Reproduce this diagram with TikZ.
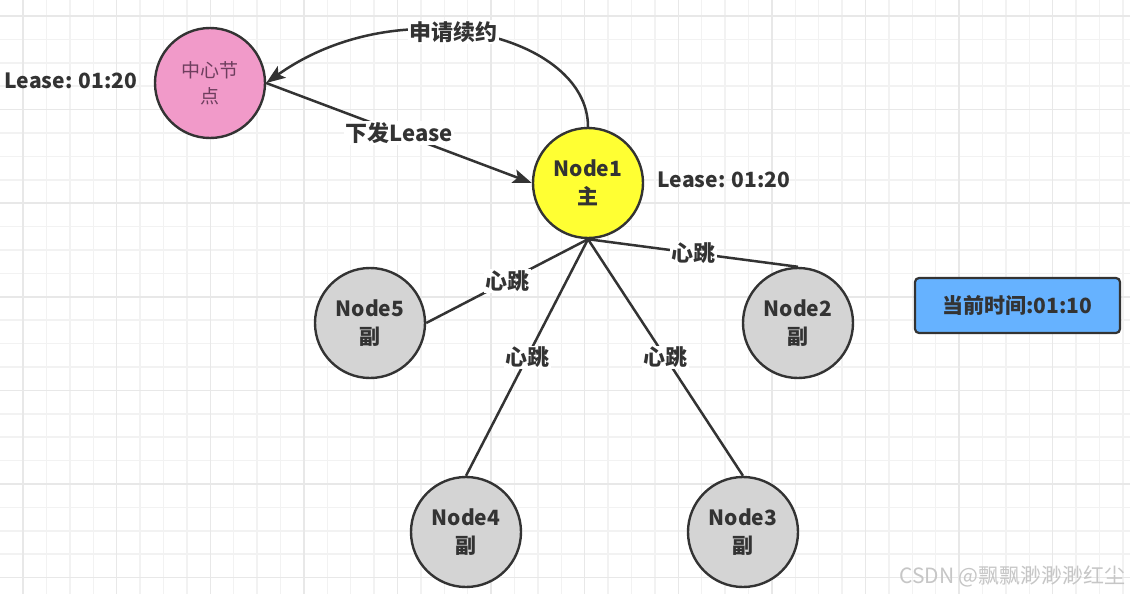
\documentclass[tikz,border=0pt]{standalone}
\usepackage{fontspec}
\setmainfont{Noto Sans CJK SC}
\usetikzlibrary{arrows.meta}
\definecolor{ink}{HTML}{333333}
\definecolor{pinkfill}{HTML}{F19AC9}
\definecolor{yellowfill}{HTML}{FFFF33}
\definecolor{grayfill}{HTML}{D4D4D4}
\definecolor{bluefill}{HTML}{66B2FF}
\definecolor{gridminor}{HTML}{F2F2F2}
\definecolor{gridmajor}{HTML}{E8E8E8}
\definecolor{pinktext}{HTML}{6E3E5E}
\tikzset{
  circnode/.style={circle, draw=ink, line width=2.4pt, minimum size=110pt, inner sep=0pt, align=center, text=ink, font=\fontsize{21}{28}\selectfont\bfseries},
  edge/.style={draw=ink, line width=2.5pt},
  arrowedge/.style={edge, -{Stealth[length=19pt,width=14pt,inset=4pt]}},
  elabel/.style={fill=white, inner sep=1.5pt, text=ink, font=\fontsize{22}{26}\selectfont\bfseries},
  plainlabel/.style={text=ink, inner sep=0pt, font=\fontsize{21}{25}\selectfont\bfseries},
}
\begin{document}
\begin{tikzpicture}[x=1pt,y=-1pt]
\useasboundingbox (0,0) rectangle (1130,594);
\fill[white] (0,0) rectangle (1130,594);
% grid
\foreach \i in {-4,...,44} {
  \pgfmathsetmacro{\gx}{116.7+23.4*\i}
  \draw[gridminor, line width=1.5pt] (\gx,0) -- (\gx,594);
}
\foreach \i in {0,...,25} {
  \pgfmathsetmacro{\gy}{16+23.4*\i}
  \draw[gridminor, line width=1.5pt] (0,\gy) -- (1130,\gy);
}
\foreach \i in {-1,...,11} {
  \pgfmathsetmacro{\gx}{116.7+93.6*\i}
  \draw[gridmajor, line width=1.5pt] (\gx,0) -- (\gx,594);
}
\foreach \i in {0,...,6} {
  \pgfmathsetmacro{\gy}{16+93.6*\i}
  \draw[gridmajor, line width=1.5pt] (0,\gy) -- (1130,\gy);
}
% nodes
\node[circnode, fill=pinkfill, text=pinktext, font=\fontsize{19}{26}\selectfont] (center) at (210,83) {中心节\\点};
\node[circnode, fill=yellowfill] (n1) at (588,183) {Node1\\主};
\node[circnode, fill=grayfill] (n5) at (370,323) {Node5\\副};
\node[circnode, fill=grayfill] (n2) at (798,323) {Node2\\副};
\node[circnode, fill=grayfill] (n4) at (466,532) {Node4\\副};
\node[circnode, fill=grayfill] (n3) at (743,532) {Node3\\副};
\node[draw=ink, line width=2.2pt, rounded corners=4pt, fill=bluefill, minimum width=205pt, minimum height=55pt, text=ink, font=\fontsize{21}{25}\selectfont\bfseries] (now) at (1017.5,305.5) {当前时间:01:10};
\node[plainlabel] (leaseL) at (71,81) {Lease: 01:20};
\node[plainlabel] (leaseR) at (724,180) {Lease: 01:20};
\node[text=gray!45, inner sep=0pt, anchor=east, font=\fontsize{21}{24}\selectfont] (mark) at (1126,576) {CSDN @飘飘渺渺渺红尘};
% edges
\draw[arrowedge] (n1.north) .. controls (588,35) and (400,-12) .. (center.east)
  node[pos=0.56, elabel] {申请续约};
\draw[arrowedge] (center.east) -- (n1.west) node[pos=0.5, elabel] {下发Lease};
\draw[edge] (n1.south) -- (n5.east) node[midway, elabel] {心跳};
\draw[edge] (n1.south) -- (n4.north) node[midway, elabel] {心跳};
\draw[edge] (n1.south) -- (n3.north) node[midway, elabel] {心跳};
\draw[edge] (n1.south) -- (n2.north) node[midway, elabel] {心跳};
\end{tikzpicture}
\end{document}
